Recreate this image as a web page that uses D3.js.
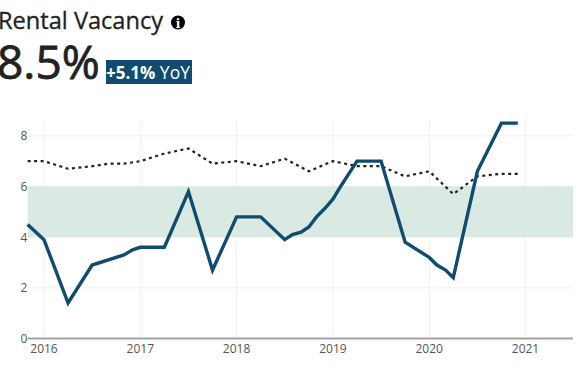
<!DOCTYPE html>
<html><head><meta charset="utf-8">
<script src="https://cdn.jsdelivr.net/npm/d3@7/dist/d3.min.js"></script>
<style>
html,body{margin:0;padding:0;background:#fff;overflow:hidden}
svg{display:block;font-family:"Open Sans",sans-serif}
</style></head><body>
<svg id="c" width="579" height="372"></svg>
<script>
const chartTitle = "Rental Vacancy";
const bigValue = "8.5%";
const changeBold = "+5.1%";
const changeRest = " YoY";
const rentalT = [2015.83,2016,2016.08,2016.25,2016.5,2016.83,2016.92,2017,2017.25,2017.5,2017.75,2018,2018.25,2018.5,2018.58,2018.67,2018.75,2018.83,2018.92,2019,2019.08,2019.25,2019.5,2019.75,2020,2020.08,2020.17,2020.25,2020.5,2020.75,2020.92];
const rentalV = [4.5,3.9,3.1,1.4,2.9,3.3,3.5,3.6,3.6,5.8,2.7,4.8,4.8,3.9,4.1,4.2,4.4,4.8,5.15,5.5,6.0,7,7,3.8,3.2,2.9,2.7,2.4,6.6,8.5,8.5];
const benchT = [2015.83,2016,2016.25,2016.5,2016.67,2016.83,2017,2017.25,2017.5,2017.75,2018,2018.25,2018.5,2018.75,2019,2019.25,2019.5,2019.75,2020,2020.25,2020.5,2020.75,2020.92];
const benchV = [7,7,6.7,6.8,6.9,6.9,7,7.3,7.5,6.9,7,6.8,7.1,6.6,7,6.8,6.8,6.4,6.6,5.7,6.4,6.5,6.5];
const yTicks = [0,2,4,6,8];
const xTicks = [2016,2017,2018,2019,2020,2021];
const bandRange = [4,6];

const svg = d3.select("#c");
const x = d3.scaleLinear().domain([2016,2021]).range([44,525.5]);
const y = d3.scaleLinear().domain([0,8]).range([338.5,135.8]);
const plotLeft = x(2015.83), plotRight = 573, plotTop = 119;

const g = svg.append("g");
g.selectAll(".gy").data(yTicks.filter(d=>d>0)).join("line").attr("class","gy")
  .attr("x1",plotLeft).attr("x2",plotRight).attr("y1",y).attr("y2",y).attr("stroke","#f0f0f0").attr("stroke-width",1);
g.selectAll(".gx").data(xTicks).join("line").attr("class","gx")
  .attr("x1",x).attr("x2",x).attr("y1",plotTop).attr("y2",y(0)).attr("stroke","#f0f0f0").attr("stroke-width",1);
g.append("rect").attr("x",plotLeft).attr("width",plotRight-plotLeft)
  .attr("y",y(bandRange[1])).attr("height",y(bandRange[0])-y(bandRange[1])).attr("fill","#dae9e2");
g.append("line").attr("x1",plotLeft).attr("x2",plotRight).attr("y1",y(0)).attr("y2",y(0)).attr("stroke","#a3a3a3").attr("stroke-width",2);

const lineGen = d3.line().x(d=>x(d[0])).y(d=>y(d[1]));
g.append("path").attr("d",lineGen(d3.zip(benchT,benchV))).attr("fill","none")
  .attr("stroke","#222").attr("stroke-width",2.2).attr("stroke-dasharray","3 3.5");
g.append("path").attr("d",lineGen(d3.zip(rentalT,rentalV))).attr("fill","none")
  .attr("stroke","#0f4c6e").attr("stroke-width",3.4).attr("stroke-linejoin","miter");

g.selectAll(".yl").data(yTicks).join("text").attr("class","yl").attr("x",24).attr("y",d=>y(d)+4.5)
  .attr("text-anchor","middle").attr("font-size",12).attr("fill","#555").text(d=>d);
g.selectAll(".xl").data(xTicks).join("text").attr("class","xl").attr("x",x).attr("y",y(0)+14.5)
  .attr("text-anchor","middle").attr("font-size",12).attr("fill","#555").text(d=>d);

svg.append("text").attr("x",-2).attr("y",29).attr("font-size",23.6).attr("fill","#222")
  .attr("stroke","#222").attr("stroke-width",0.3).text(chartTitle);
const ic = svg.append("g").attr("transform","translate(178,22.5)");
ic.append("circle").attr("r",7).attr("fill","#000");
ic.append("text").attr("text-anchor","middle").attr("y",5).attr("font-size",12).attr("font-weight",700)
  .attr("font-family","'DejaVu Serif',serif").attr("fill","#fff").text("i");
svg.append("text").attr("x",-3).attr("y",79).attr("font-size",46).attr("fill","#222")
  .attr("stroke","#222").attr("stroke-width",0.8).text(bigValue);
svg.append("rect").attr("x",106).attr("y",60).attr("width",86).attr("height",24).attr("fill","#0f4c6e");
const label = svg.append("text").attr("x",106).attr("y",79).attr("font-size",17.5).attr("fill","#fff").attr("xml:space","preserve");
label.append("tspan").attr("font-weight",700).attr("font-size",17).text(changeBold);
label.append("tspan").text(changeRest);
</script></body></html>
